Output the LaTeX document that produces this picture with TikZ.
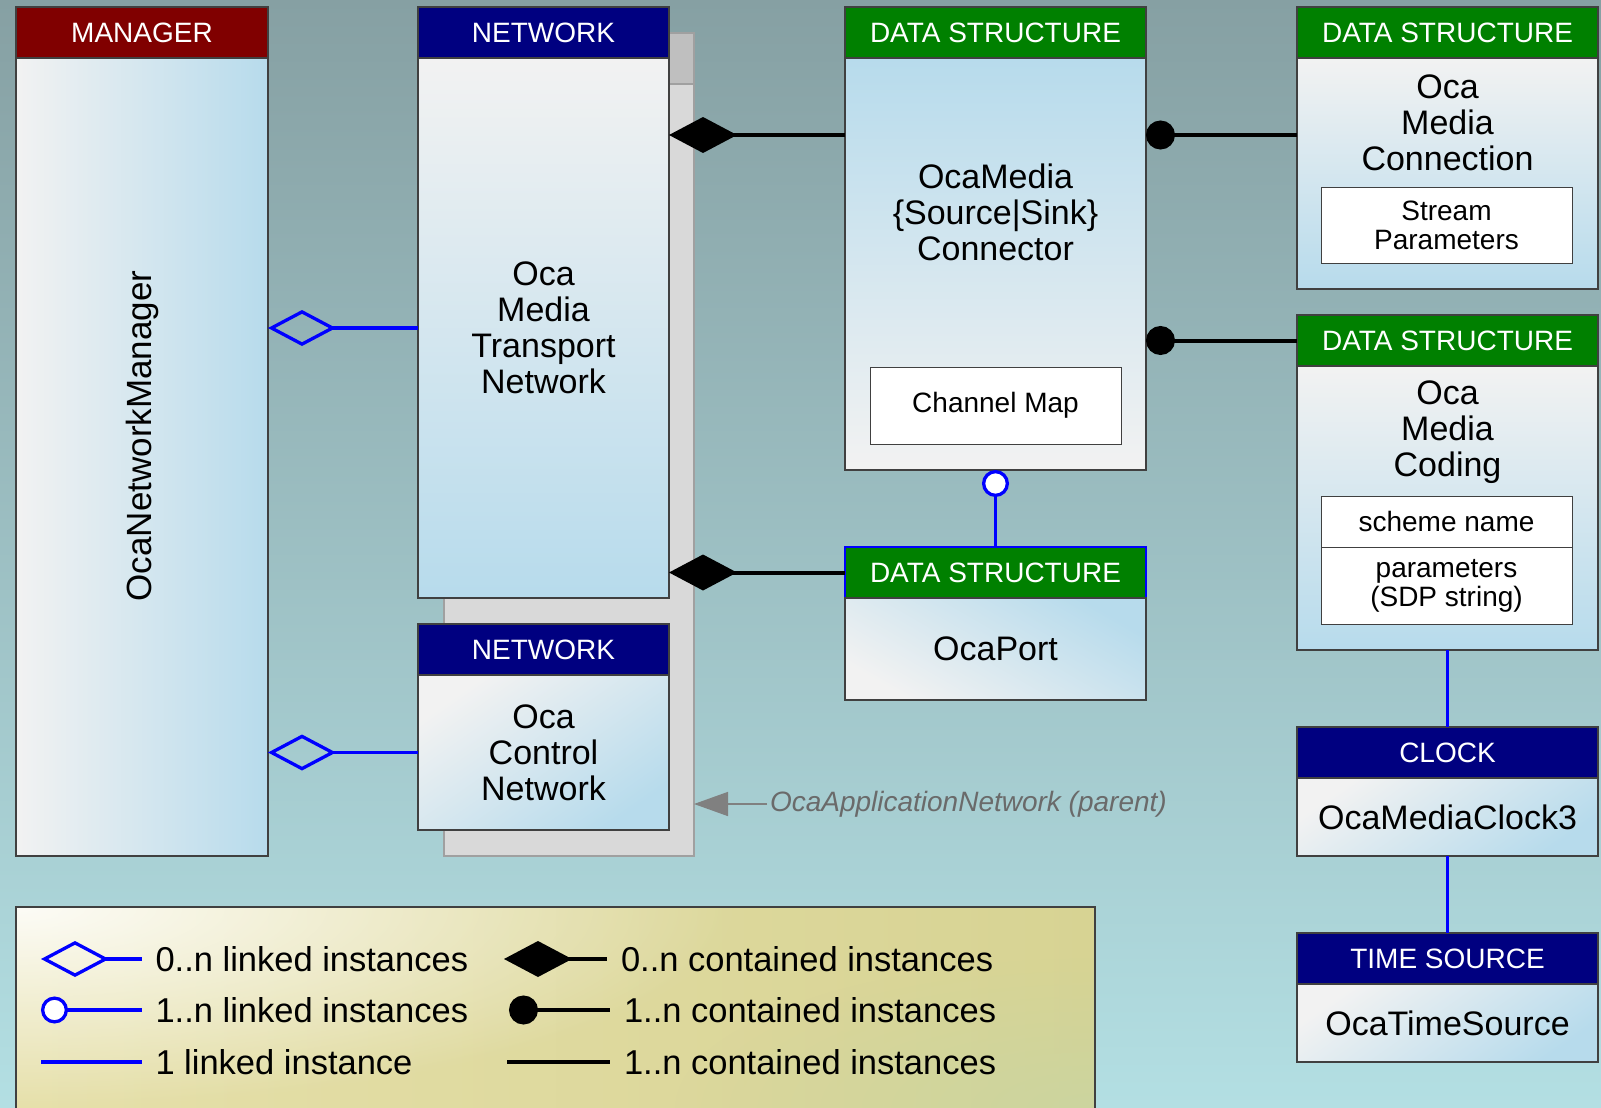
\documentclass[tikz,border=0pt]{standalone}
\usepackage{fontspec}
\setmainfont{Liberation Sans}
\usetikzlibrary{arrows.meta,fadings}

\definecolor{mgrred}{HTML}{800000}
\definecolor{netblue}{HTML}{000080}
\definecolor{dsgreen}{HTML}{008000}
\definecolor{boxline}{HTML}{404040}
\definecolor{boxwhite}{HTML}{F2F2F2}
\definecolor{boxblue}{HTML}{B7DBEC}
\definecolor{bgtop}{HTML}{86A0A3}
\definecolor{bgbot}{HTML}{B3DFE3}
\definecolor{pargray}{HTML}{D9D9D9}
\definecolor{parhdr}{HTML}{BFBFBF}
\definecolor{parline}{HTML}{A0A0A0}
\definecolor{legleft}{HTML}{E6E0AA}
\definecolor{legright}{HTML}{D7D393}
\definecolor{leggreen}{HTML}{C9D5A2}
\definecolor{arrowgray}{HTML}{808080}
\definecolor{textgray}{HTML}{6A6A6A}

\tikzfading[name=glow,inner color=transparent!0,outer color=transparent!100]

\newcommand\hdrfont{\fontsize{28}{30}\selectfont}
\newcommand\bodyfont{\fontsize{34}{36}\selectfont}
\newcommand\smallfont{\fontsize{28}{29}\selectfont}
\newcommand\legfont{\fontsize{34.5}{36}\selectfont}

\begin{document}
\begin{tikzpicture}[x=1pt,y=-1pt,
    every node/.style={inner sep=0pt,outer sep=0pt},
    hdr/.style={draw=boxline,line width=1.2pt,text=white,minimum height=51pt,font=\hdrfont,anchor=north west},
    body/.style={draw=boxline,line width=1.2pt,anchor=north west,align=center,font=\bodyfont},
    vshade/.style={top color=boxwhite,bottom color=boxblue},
    ushade/.style={top color=boxblue,bottom color=boxwhite},
    dshade/.style={top color=boxwhite,bottom color=boxblue,shading angle=35},
    field/.style={draw=boxline,line width=1pt,fill=white,minimum width=251pt,font=\smallfont,align=center,anchor=north west},
    bodytext/.style={align=center,font=\bodyfont},
    contain/.style={line width=4pt,{Diamond[length=68pt,width=36pt]}-},
    containone/.style={line width=4pt,{Circle[length=29pt,width=29pt]}-},
    linkmany/.style={blue,line width=3.3pt,{Diamond[open,length=68pt,width=36pt,line width=3.3pt]}-},
    linkone/.style={blue,line width=3.3pt,{Circle[fill=white,length=27pt,width=27pt,line width=3.3pt]}-},
    linksingle/.style={blue,line width=3.3pt},
    parentarrow/.style={draw=arrowgray,line width=1.5pt,-{Triangle[length=34pt,width=24pt]}},
    legtext/.style={anchor=west,inner xsep=14pt,font=\legfont}]

  \useasboundingbox (0,0) rectangle (1601,1108);
  \shade[top color=bgtop,bottom color=bgbot] (0,0) rectangle (1601,1108);

  \node[draw=parline,line width=1.2pt,fill=parhdr,minimum width=250pt,minimum height=51pt,anchor=north west] (pneth) at (444,33) {};
  \node[draw=parline,line width=1.2pt,fill=pargray,minimum width=250pt,minimum height=772pt,anchor=north west] (pnet) at (444,84) {};

  \node[hdr,fill=mgrred,minimum width=252pt] (mgrh) at (16,7) {MANAGER};
  \node[body,left color=boxwhite,right color=boxblue,minimum width=252pt,minimum height=798pt] (mgrb) at (16,58) {};
  \node[rotate=90,font=\fontsize{35}{37}\selectfont] (mgrtxt) at (142,436) {OcaNetworkManager};

  \node[hdr,fill=netblue,minimum width=251pt] (mtnh) at (418,7) {NETWORK};
  \node[body,vshade,minimum width=251pt,minimum height=540pt] (mtnb) at (418,58) {Oca\\Media\\Transport\\Network};

  \node[hdr,fill=netblue,minimum width=251pt] (ocnh) at (418,624) {NETWORK};
  \node[body,dshade,minimum width=251pt,minimum height=155pt] (ocnb) at (418,675) {Oca\\Control\\Network};

  \node[hdr,fill=dsgreen,minimum width=301pt] (connh) at (845,7) {DATA STRUCTURE};
  \node[body,ushade,minimum width=301pt,minimum height=412pt] (connb) at (845,58) {};
  \node[bodytext] (conntxt) at (995.5,212) {OcaMedia\\\{Source|Sink\}\\Connector};
  \node[field,minimum height=77pt] (chmap) at (870,367) {Channel Map};

  \node[hdr,fill=dsgreen,draw=blue,minimum width=301pt] (porth) at (845,547) {DATA STRUCTURE};
  \node[body,top color=boxblue,bottom color=boxwhite,shading angle=-30,minimum width=301pt,minimum height=102pt] (portb) at (845,598) {OcaPort};

  \node[hdr,fill=dsgreen,minimum width=301pt] (mconh) at (1297,7) {DATA STRUCTURE};
  \node[body,vshade,minimum width=301pt,minimum height=231pt] (mconb) at (1297,58) {};
  \node[bodytext] (mcontxt) at (1447.5,122.5) {Oca\\Media\\Connection};
  \node[field,minimum height=76pt] (strpar) at (1321,187) {Stream\\Parameters};

  \node[hdr,fill=dsgreen,minimum width=301pt] (mcodh) at (1297,315) {DATA STRUCTURE};
  \node[body,vshade,minimum width=301pt,minimum height=284pt] (mcodb) at (1297,366) {};
  \node[bodytext] (mcodtxt) at (1447.5,432) {Oca\\Media\\Coding};
  \node[field,minimum height=51pt] (scheme) at (1321,496) {scheme name};
  \node[field,minimum height=77pt] (params) at (1321,547) {parameters\\(SDP string)};

  \node[hdr,fill=netblue,minimum width=301pt] (clkh) at (1297,727) {CLOCK};
  \node[body,dshade,minimum width=301pt,minimum height=78pt] (clkb) at (1297,778) {OcaMediaClock3};

  \node[hdr,fill=netblue,minimum width=301pt] (tsh) at (1297,933) {TIME SOURCE};
  \node[body,dshade,minimum width=301pt,minimum height=78pt] (tsb) at (1297,984) {OcaTimeSource};

  \coordinate (ctop) at (0,135);

  \draw[contain] (mtnb.east |- ctop) -- (connb.west |- ctop);
  \draw[contain] (mtnb.east |- porth.west) -- (porth.west);
  \draw[containone] (connb.east |- ctop) -- (mconb.west |- ctop);
  \draw[containone] (connb.east |- mcodh.west) -- (mcodh.west);
  \draw[linkone] (connb.south) -- (porth.north);
  \draw[linkmany] (mgrb.east |- mtnb.west) -- (mtnb.west);
  \draw[linkmany] (mgrb.east |- ocnb.west) -- (ocnb.west);
  \draw[linksingle] (mcodb.south) -- (clkh.north);
  \draw[linksingle] (clkb.south) -- (tsh.north);

  \node[anchor=west,inner xsep=3pt,font=\itshape\hdrfont,text=textgray] (ptxt) at (767,804) {OcaApplicationNetwork (parent)};
  \draw[parentarrow] (ptxt.west) -- (pnet.east |- ptxt.west);

  \node[draw=boxline,line width=1.2pt,left color=legleft,right color=legright,minimum width=1079pt,minimum height=213pt,anchor=north west] (legend) at (16,907) {};
  \begin{scope}
    \clip (16,907) rectangle (1095,1108);
    \fill[white,opacity=0.9,path fading=glow] (16,907) ellipse [x radius=720,y radius=200];
    \fill[leggreen,opacity=0.8,path fading=glow] (1095,1108) ellipse [x radius=420,y radius=150];
  \end{scope}
  \draw[boxline,line width=1.2pt] (legend.south west) -- (legend.north west) -- (legend.north east) -- (legend.south east);

  \coordinate (ls1) at (41,959);
  \coordinate (ls2) at (41,1010);
  \coordinate (ls3) at (41,1062);
  \coordinate (ls4) at (504,959);
  \coordinate (ls5) at (509,1010);
  \coordinate (ls6) at (507,1062);
  \node[legtext] (lt1) at (141.5,959) {0..n linked instances};
  \node[legtext] (lt2) at (141.5,1010) {1..n linked instances};
  \node[legtext] (lt3) at (141.5,1062) {1 linked instance};
  \node[legtext] (lt4) at (607,959) {0..n contained instances};
  \node[legtext] (lt5) at (610,1010) {1..n contained instances};
  \node[legtext] (lt6) at (610,1062) {1..n contained instances};
  \draw[linkmany] (ls1) -- (lt1.west);
  \draw[linkone] (ls2) -- (lt2.west);
  \draw[linksingle] (ls3) -- (lt3.west);
  \draw[contain] (ls4) -- (lt4.west);
  \draw[containone] (ls5) -- (lt5.west);
  \draw[line width=4pt] (ls6) -- (lt6.west);
\end{tikzpicture}
\end{document}
